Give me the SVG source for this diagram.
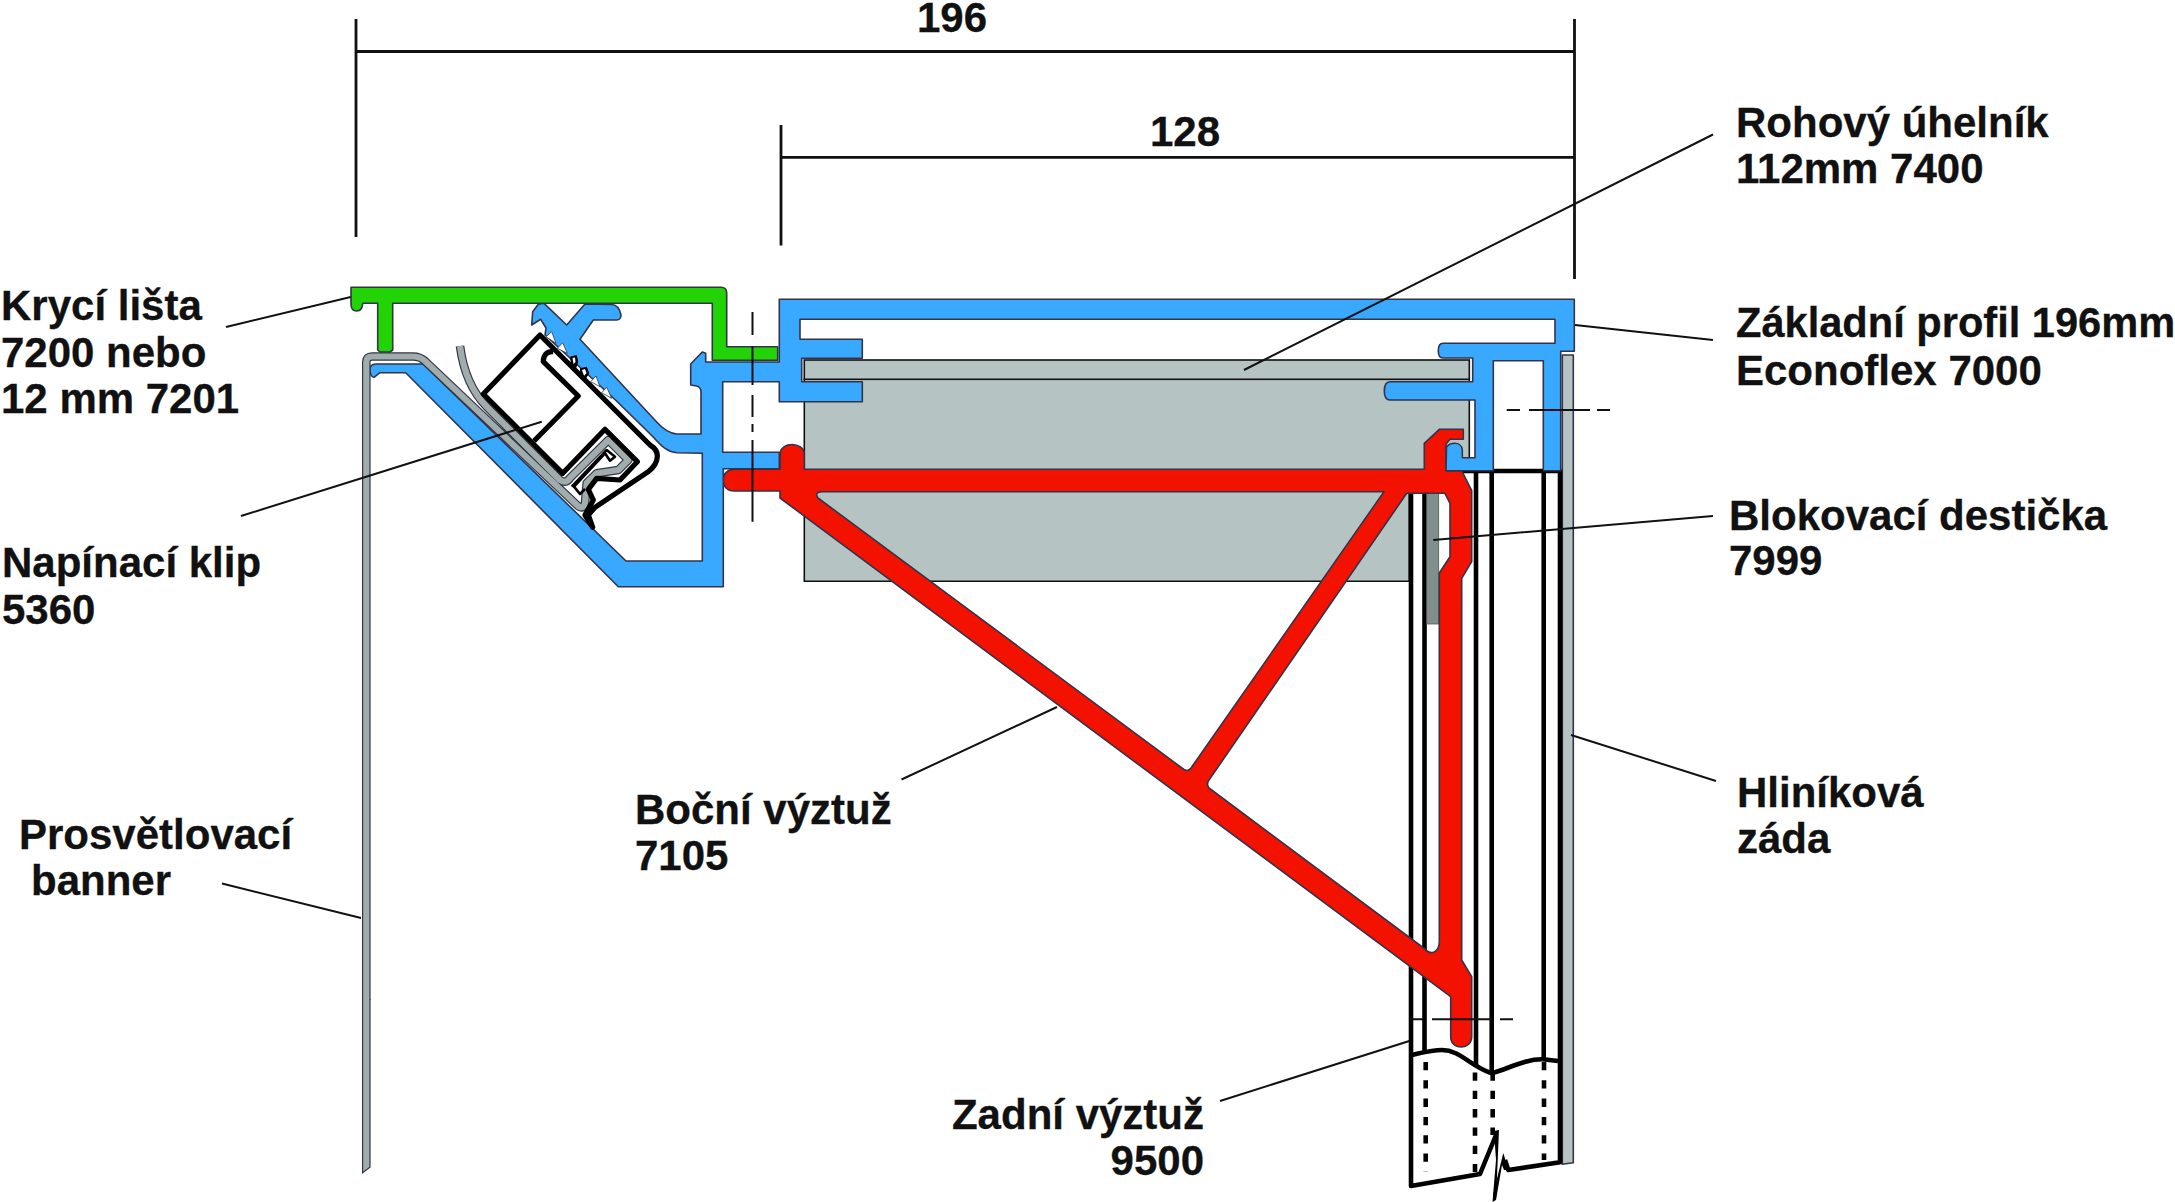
<svg xmlns="http://www.w3.org/2000/svg" width="2175" height="1202" viewBox="0 0 2175 1202">
<style>
text{font-family:"Liberation Sans",Arial,sans-serif;font-weight:700;font-size:42px;fill:#111;stroke:#111;stroke-width:.3}
.o{stroke:#33334a;stroke-width:1.6;stroke-linejoin:round}
.blue{fill:#39a9ff}.green{fill:#22d406}.red{fill:#f31200;fill-rule:evenodd}.plate{fill:#b5c4c2;stroke:#111;stroke-width:1.6}
.thin{fill:none;stroke:#111;stroke-width:2}
.dim{fill:none;stroke:#111;stroke-width:2.8}
.blk{fill:none;stroke:#000;stroke-width:4.6;stroke-linejoin:round}
.blk2{fill:none;stroke:#000;stroke-width:5.2;stroke-linejoin:round}
.dash{fill:none;stroke:#000;stroke-width:4.6;stroke-dasharray:8.3 10}
.tooth{fill:#fff;stroke:#33334a;stroke-width:.8}
</style>
<rect width="2175" height="1202" fill="#fff"/>
<g id="plate-rohovy">
<path class="plate" d="M804.3,379.3H1469.3V470H1409.3V581.3H804.3Z"/>
<rect class="plate" x="804.3" y="360" width="665" height="19.3"/>
</g>
<g id="hlinikova-zada">
<path class="o" fill="#b5c4c2" d="M1562.3,355H1573.3V1162.7L1562.3,1164.3Z"/>
</g>
<g id="zadni-vyztuz">
<path class="blk" d="M1411,493V1186L1480,1174L1496,1135M1505,1160L1508.3,1170L1560,1162.3V471H1446"/>
<path class="blk" d="M1424.5,493V1053M1476,471V1066M1491.7,471V1073M1543.7,471V1059"/>
<path class="blk" d="M1411.7,1055C1425,1052 1432,1050 1442,1050C1460,1050 1470,1066 1491.7,1073.3C1510,1068 1525,1059 1543,1059.3L1558,1061"/>
<path class="dash" d="M1425.7,1062V1172M1544,1062V1160"/>
<path class="dash" d="M1475,1072.5V1172M1492.7,1072.5V1135"/>
<path fill="#000" d="M1494,1131L1499,1130L1496,1200L1492.5,1202L1496,1160Z"/>
<path fill="#000" d="M1493,1195L1503.3,1153L1508.5,1170L1504,1170L1502,1165L1496,1200Z"/>
</g>
<g id="blokovaci-desticka">
<rect x="1426.7" y="493.3" width="12" height="130.7" fill="#7f8f8e" stroke="#555" stroke-width=".8"/>
</g>
<g id="bocni-vyztuz">
<path class="red o" d="M734,469.3H780V452.7C782,446 787,444.5 792.3,444.5C798,444.5 804,448 804.3,453.3V469.3H1424.3V443.3L1439.3,429.3H1463.3V439.3H1450L1446,444V470.7H1461.7L1471.7,490.7V561.7L1461.7,578.3V960L1471.7,976.7V1036.7C1471.7,1043 1467,1047 1461,1047C1455,1047 1450.7,1043 1450.7,1036.7V996.7L780,498V491H734C727,491 723,486 723,480C723,474 728,469.3 734,469.3Z
M822,491.7H1384L1191,768Q1188,772 1184,769.5L818,498Q814,492 822,491.7Z
M1406.7,493.3H1445L1450,503.3V556.7L1439.3,573V942C1439,952 1431,956 1425,949L1209,788Q1206,784 1209,780Z"/>
</g>
<g id="zakladni-profil">
<path class="blue o" d="M618.3,586.7H723.3V468.7H779.3V452.3H722.7V381.7H779.3V401.7H862.3V381.7H801.7V358.3H862.3V339.3H800V319.3H1555V343.3H1443C1439,343.3 1438.3,347 1438.3,350.7C1438.3,354 1439,358 1443,358H1472.7V381.7H1390C1386,381.7 1384.3,386 1384.3,391C1384.3,396 1386,400 1390,400H1475V457.7H1462.3V450C1462,445 1458,443.3 1455,443.3C1451,443.3 1448,445 1446.5,447L1446,470.7H1493.3V360.7H1543.3V470.7H1560.7V351.3H1574.3V299.3H779.3V362H705.7V353.3L702.3,352L690.7,364V385L696.7,386C700,387 701,389 701,392V434H676.7C668,433 662,428 656.7,422L580,339.3L593.3,320H616.7C620,320 621,317 621,315C620,310 618,305 612,304.5L585,304L566.7,325L544,303.3L538.3,304.3L532.7,311.7L531.7,325L540.7,319.3L546,328L545,335L616,400.5L653,436.7C662,447 668,452 677,452.7L702.3,453.3V561H626L423,364H376C371,364 369.5,367 370,371C370.5,375 372,377.3 374,377.3L380,372.7H405.7Z"/>
<g>
<path class="tooth" d="M546,336.7L551.7,331.7L556,343.3ZM557.3,348.3L562.7,342.7L567.3,353.3ZM590.7,381.7L596,376L600,386.7ZM601.7,392.7L606.7,387.3L611.7,398.3Z"/>
<path fill="#000" d="M570,356.7L576.7,355L578.3,361.7L575,371.7L571.7,370ZM580,368.3L586.7,366.7L589.3,373.3L585,380L580,376.7Z"/>
<path fill="#fff" d="M572.5,358L575,357.5L575.5,362L573.5,364ZM582,370L585,369L586.5,373L584,376Z"/>
</g>
</g>
<g id="kryci-lista">
<path class="green o" d="M351,287.3H721C725,287.3 726.7,290 726.7,293V346.7H777.7V360.3H712.3V303.3H392.7V350L390,352H380L377.7,350V303.3H362.7C362.5,308 361,311 356.7,311C353,311 351,308 351,304Z"/>
</g>
<g id="prosvetlovaci-banner">
<path fill="none" stroke="#33334a" stroke-width="8.6" stroke-linejoin="round" d="M366.3,1000V362Q366.3,356.5 372,356.5H413Q420,356.5 425,361L578,506Q583,510 585,503L586.7,483L596.7,473.3L618.3,470L628.3,460L608.3,440L570,478Q566,484 560,480L487,407Q465,385 460,346"/>
<path fill="none" stroke="#a0adab" stroke-width="6.2" stroke-linejoin="round" d="M366.3,1001V362Q366.3,356.5 372,356.5H413Q420,356.5 425,361L578,506Q583,510 585,503L586.7,483L596.7,473.3L618.3,470L628.3,460L608.3,440L570,478Q566,484 560,480L487,407Q465,385 460,346"/>
<path fill="#a0adab" stroke="#33334a" stroke-width="1.2" d="M362.6,999V1172.7L370,1167.3V999" />
</g>
<g id="napinaci-klip">
<path class="blk2" d="M540,335L483.3,394L562.7,473.3L605,429.3L637.3,461.7L620,480L596.7,478.3L588.3,489.3L593.3,500L585,515L592.7,527.3L588.3,515L595,507.3L648.3,471.7Q657,465 657.3,456.7Q658,450 650,445Z"/>
<path class="blk2" d="M553.3,351.7C547,351 543.3,355 543.3,361.7L578.3,396L534,441"/>
<path fill="none" stroke="#000" stroke-width="2.6" stroke-linejoin="round" d="M571.7,486.7L606.7,450L615,456.7L610,460.7L605,453.3L574,486.7L580,494L585,489"/>
</g>
<g id="connectors">
<path class="dim" d="M356,19V237M1574.5,19V279M356,51.5H1574.5M781,125V245.5M781,157.4H1574.5"/>
<path class="thin" d="M1713,134.5L1244,370M1575,325L1713,340M226,327L350.7,297M241,516L541.7,421.7M1713,516L1433.3,540M1716,781L1571,735M222,883.5L361,918M901.5,779.5L1057,707M1220,1101L1409.3,1041"/>
<path class="thin" d="M752.5,312V335M752.5,346V385M752.5,395V417M752.5,424V432M752.5,440V521.7M1506.7,410H1520M1529,410H1590M1597,410H1610M1410,1019.3H1423M1432,1019.3H1492M1500,1019.3H1513"/>
</g>
<g id="labels">
<text x="952" y="32" text-anchor="middle">196</text>
<text x="1185" y="146" text-anchor="middle">128</text>
<text x="1736" y="137">Rohový úhelník</text>
<text x="1736" y="183">112mm 7400</text>
<text x="1736" y="337" style="font-size:41.6px">Základní profil 196mm</text>
<text x="1736" y="385">Econoflex 7000</text>
<text x="1729" y="530">Blokovací destička</text>
<text x="1729" y="575">7999</text>
<text x="1737" y="807">Hliníková</text>
<text x="1737" y="853">záda</text>
<text x="1" y="320">Krycí lišta</text>
<text x="1" y="367">7200 nebo</text>
<text x="1" y="413">12 mm 7201</text>
<text x="2" y="577">Napínací klip</text>
<text x="2" y="624">5360</text>
<text x="19" y="849">Prosvětlovací</text>
<text x="31" y="895">banner</text>
<text x="635" y="824">Boční výztuž</text>
<text x="635" y="870">7105</text>
<text x="1204" y="1129" text-anchor="end">Zadní výztuž</text>
<text x="1204" y="1175" text-anchor="end">9500</text>
</g>
</svg>
